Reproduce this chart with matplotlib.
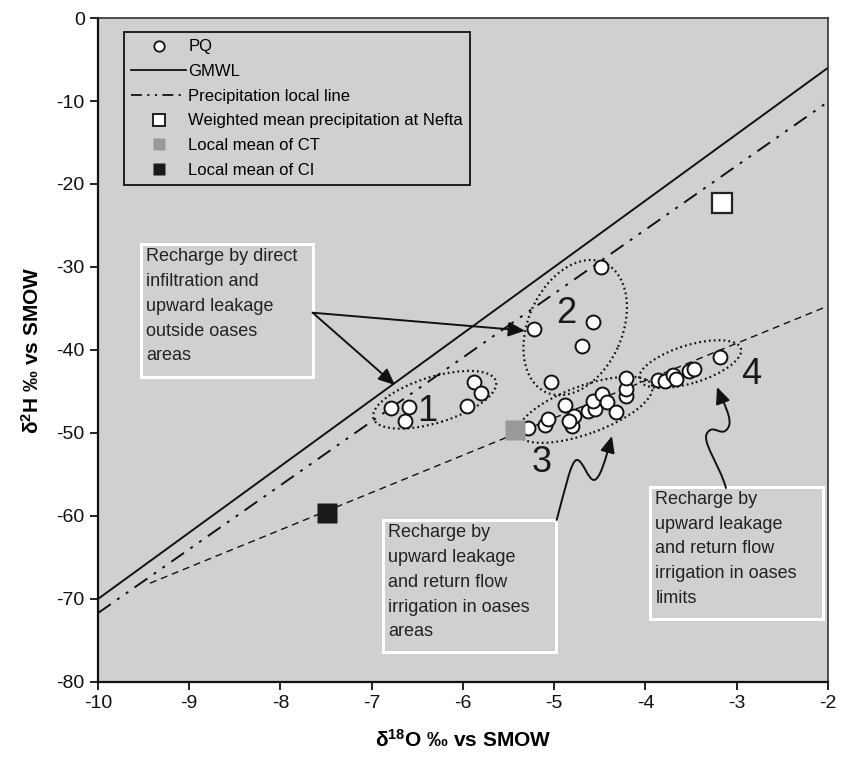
import numpy as np
import matplotlib
matplotlib.use("Agg")
import matplotlib.pyplot as plt
import matplotlib.transforms as mtransforms
from matplotlib.patches import Ellipse, Rectangle, FancyArrowPatch
from matplotlib.path import Path
from matplotlib.lines import Line2D

plt.rcParams['font.family'] = ['Liberation Sans', 'DejaVu Sans']
plt.rcParams['mathtext.fontset'] = 'custom'
plt.rcParams['mathtext.rm'] = 'Liberation Sans'
plt.rcParams['mathtext.bf'] = 'Liberation Sans:bold'
plt.rcParams['mathtext.it'] = 'Liberation Sans:italic'
plt.rcParams['axes.unicode_minus'] = False

# PQ samples (d18O, d2H), per group
g1_o18 = [-6.79, -6.59, -6.64, -5.88, -5.80, -5.96]
g1_h2 = [-47.0, -46.9, -48.6, -43.8, -45.2, -46.7]
g2_o18 = [-4.49, -4.58, -4.70, -5.22, -5.03]
g2_h2 = [-30.0, -36.6, -39.5, -37.5, -43.9]
g3_o18 = [-5.29, -5.10, -5.07, -4.88, -4.81, -4.78, -4.84, -4.63,
          -4.55, -4.57, -4.48, -4.42, -4.32, -4.21, -4.21, -4.21]
g3_h2 = [-49.4, -49.0, -48.3, -46.6, -49.2, -48.0, -48.6, -47.4,
         -47.1, -46.2, -45.3, -46.3, -47.5, -45.6, -44.7, -43.4]
g4_o18 = [-3.86, -3.79, -3.70, -3.66, -3.52, -3.47, -3.18]
g4_h2 = [-43.6, -43.7, -43.0, -43.5, -42.5, -42.3, -40.9]

# mean values
nefta = (-3.16, -22.3)
ct_mean = (-5.43, -49.6)
ci_mean = (-7.49, -59.6)

# lines
gmwl_o18 = [-10, -2]
gmwl_h2 = [-70, -6]
lmwl_o18 = [-10, -2]
lmwl_h2 = [-71.7, -10.1]
evap_o18 = [-9.43, -2]
evap_h2 = [-68.1, -34.7]

# group ellipses: label, centre, size in px, angle, label position
groups = ['1', '2', '3', '4']
ell_center = [(-6.31, -46.0), (-4.77, -37.3), (-4.66, -47.2), (-3.51, -41.7)]
ell_size = [(128, 46), (142, 94), (142, 48), (106, 38)]
ell_angle = [17, 66, 20, 17]
label_pos = [(-6.39, -47.4), (-4.87, -35.6), (-5.14, -53.5), (-2.84, -43.0)]

box_text = ["Recharge by direct\ninfiltration and\nupward leakage\noutside oases\nareas",
            "Recharge by\nupward leakage\nand return flow\nirrigation in oases\nareas",
            "Recharge by\nupward leakage\nand return flow\nirrigation in oases\nlimits"]
box_xy = [(-9.532, -43.22), (-6.877, -76.39), (-3.951, -72.41)]
box_wh = [(1.885, 15.99), (1.896, 15.91), (1.893, 15.94)]

bg = '#d0d0d0'

fig = plt.figure(figsize=(8.49, 7.63), dpi=100)
ax = fig.add_axes([0.1154, 0.1062, 0.8598, 0.8702])
ax.set_facecolor(bg)
ax.set_xlim(-10, -2)
ax.set_ylim(-80, 0)
ax.set_xticks(np.arange(-10, -1, 1))
ax.set_yticks(np.arange(-80, 1, 10))
ax.tick_params(direction='out', length=6, width=1.3, labelsize=14, colors='#111111')
for s in ['left', 'bottom']:
    ax.spines[s].set_linewidth(1.6)
    ax.spines[s].set_color('#111111')
for s in ['top', 'right']:
    ax.spines[s].set_linewidth(1.2)
    ax.spines[s].set_color('#333333')

ax.set_xlabel(r'δ$^{\mathbf{18}}$O ‰ vs SMOW', fontsize=15, fontweight='bold', labelpad=12)
ax.set_ylabel(r'δ$^{\mathbf{2}}$H ‰ vs SMOW', fontsize=15, fontweight='bold', labelpad=10)

# lines
ax.plot(gmwl_o18, gmwl_h2, color='#111111', lw=1.4, zorder=2)
ax.plot(lmwl_o18, lmwl_h2, color='#111111', lw=1.4, dashes=(8, 4, 1.5, 4, 1.5, 4), zorder=2)
ax.plot(evap_o18, evap_h2, color='#111111', lw=1.0, dashes=(5, 3.5), zorder=2)

# dotted ellipses around groups
for c, sz, ang in zip(ell_center, ell_size, ell_angle):
    tr = fig.dpi_scale_trans + mtransforms.ScaledTranslation(c[0], c[1], ax.transData)
    e = Ellipse((0, 0), sz[0] / 100, sz[1] / 100, angle=ang, transform=tr,
                fill=False, edgecolor='#111111', lw=1.6, linestyle=(0, (0.8, 1.4)), zorder=3)
    ax.add_patch(e)

for g, p in zip(groups, label_pos):
    ax.text(p[0], p[1], g, fontsize=26, ha='center', va='center', color='#1a1a1a', zorder=4)

# PQ points
pq_o18 = g1_o18 + g2_o18 + g3_o18 + g4_o18
pq_h2 = g1_h2 + g2_h2 + g3_h2 + g4_h2
ax.scatter(pq_o18, pq_h2, s=100, facecolor='white', edgecolor='#111111', linewidth=1.4, zorder=5)

# means
ax.plot(*nefta, marker='s', ms=14, mfc='white', mec='#222222', mew=1.6, ls='none', zorder=6)
ax.plot(*ct_mean, marker='s', ms=15, mfc='#999999', mec='none', ls='none', zorder=6)
ax.plot(*ci_mean, marker='s', ms=15, mfc='#1a1a1a', mec='none', ls='none', zorder=6)

# annotation boxes
for txt, xy, wh in zip(box_text, box_xy, box_wh):
    ax.add_patch(Rectangle(xy, wh[0], wh[1], facecolor=bg, edgecolor='white', lw=2.2, zorder=3))
    ax.annotate(txt, (xy[0], xy[1] + wh[1]), xytext=(4, -3), textcoords='offset points',
                ha='left', va='top', fontsize=13, linespacing=1.6, color='#222222', zorder=4)

# arrows
arr_kw = dict(arrowstyle='-|>,head_length=0.5,head_width=0.22', mutation_scale=20,
              color='#111111', lw=1.4, zorder=7)
start1 = (-7.647, -35.51)
for tip in [(-6.745, -44.22), (-5.32, -37.67)]:
    ax.add_patch(FancyArrowPatch(start1, tip, shrinkA=0, shrinkB=0, **arr_kw))

wig2 = [(-4.973, -60.48), (-4.882, -56.87), (-4.816, -53.25), (-4.751, -53.25),
        (-4.685, -53.25), (-4.630, -55.66), (-4.564, -55.66),
        (-4.499, -55.66), (-4.433, -53.01), (-4.367, -50.36)]
wig3 = [(-3.118, -56.63), (-3.184, -53.86), (-3.405, -50.84), (-3.315, -49.88),
        (-3.249, -48.92), (-3.162, -50.60), (-3.096, -49.40),
        (-3.030, -48.43), (-3.162, -46.02), (-3.216, -44.46)]
codes = [Path.MOVETO] + [Path.CURVE4] * 9
for w in [wig2, wig3]:
    ax.add_patch(FancyArrowPatch(path=Path(w, codes), **arr_kw))

# legend
handles = [
    Line2D([], [], marker='o', ls='none', mfc='white', mec='#111111', ms=7.5, mew=1.3),
    Line2D([], [], color='#111111', lw=1.3),
    Line2D([], [], color='#111111', lw=1.3, dashes=(6, 3, 1.2, 3, 1.2, 3)),
    Line2D([], [], marker='s', ls='none', mfc='white', mec='#111111', ms=8, mew=1.3),
    Line2D([], [], marker='s', ls='none', mfc='#999999', mec='none', ms=9),
    Line2D([], [], marker='s', ls='none', mfc='#1a1a1a', mec='none', ms=9),
]
labels = ['PQ', 'GMWL', 'Precipitation local line', 'Weighted mean precipitation at Nefta',
          'Local mean of CT', 'Local mean of CI']
leg = ax.legend(handles, labels, loc='upper left', bbox_to_anchor=(0.0356, 0.747, 0.474, 0.232),
                mode='expand', borderaxespad=0, fontsize=12, handlelength=3.3, handletextpad=0.1,
                labelspacing=0.58, borderpad=0.45, fancybox=False, framealpha=1,
                facecolor=bg, edgecolor='#111111')
leg.get_frame().set_linewidth(1.3)
leg.set_zorder(8)

fig.savefig('out.png', dpi=100)
